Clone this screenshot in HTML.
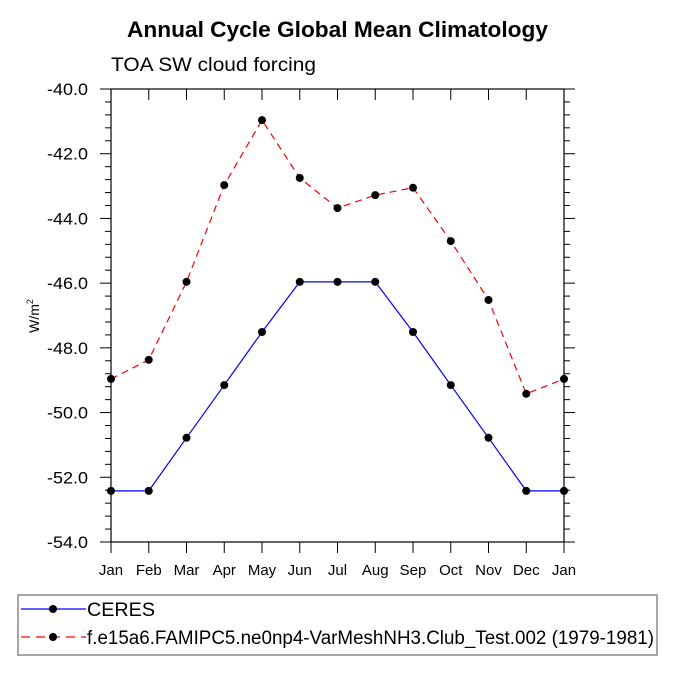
<!DOCTYPE html>
<html><head><meta charset="utf-8"><style>
html,body{margin:0;padding:0;background:#fff;}
svg{display:block;font-family:"Liberation Sans",sans-serif;}
</style></head><body>
<svg id="chart" width="675" height="675">
<text x="127" y="37" textLength="421" lengthAdjust="spacingAndGlyphs" font-size="22" font-weight="bold">Annual Cycle Global Mean Climatology</text>
<text x="111" y="71" textLength="205" lengthAdjust="spacingAndGlyphs" font-size="19">TOA SW cloud forcing</text>
<text transform="translate(39,316) rotate(-90)" text-anchor="middle" font-size="14">W/m<tspan dy="-6" font-size="9">2</tspan></text>
<g id="axes"></g>
<g id="series"></g>
<rect x="18" y="595" width="639" height="60" fill="none" stroke="#888" stroke-width="1.5"/>
<g>
<line x1="21" y1="609" x2="86" y2="609" stroke="#00f" stroke-width="1.2"/>
<circle cx="53" cy="609" r="4" fill="#000"/>
<text x="87" y="616" textLength="68" lengthAdjust="spacingAndGlyphs" font-size="19">CERES</text>
</g>
<g>
<line x1="21" y1="637" x2="86" y2="637" stroke="#f00" stroke-width="1.2" stroke-dasharray="9,6"/>
<circle cx="53" cy="637" r="4" fill="#000"/>
<text x="87" y="644" textLength="567" lengthAdjust="spacingAndGlyphs" font-size="19">f.e15a6.FAMIPC5.ne0np4-VarMeshNH3.Club_Test.002 (1979-1981)</text>
</g>
</svg>
<script>
const months = ["Jan","Feb","Mar","Apr","May","Jun","Jul","Aug","Sep","Oct","Nov","Dec","Jan"];
const ceres = [-52.42,-52.42,-50.78,-49.15,-47.51,-45.96,-45.96,-45.96,-47.51,-49.15,-50.78,-52.42,-52.42];
const model = [-48.96,-48.37,-45.96,-42.97,-40.96,-42.75,-43.68,-43.28,-43.05,-44.7,-46.52,-49.42,-48.96];
const yTicks = [-40,-42,-44,-46,-48,-50,-52,-54];
const NS="http://www.w3.org/2000/svg";
const L=111,R=564,T=89,B=542,ymax=-40,ymin=-54;
const xs=i=>L+(R-L)*i/(months.length-1);
const ys=v=>T+(ymax-v)/(ymax-ymin)*(B-T);
function mk(tag,attrs,parent){const e=document.createElementNS(NS,tag);for(const k in attrs)e.setAttribute(k,attrs[k]);parent.appendChild(e);return e;}
const ax=document.getElementById('axes');
const frame=mk('rect',{x:L,y:T,width:R-L,height:B-T,fill:'none',stroke:'#000','stroke-width':1.2},ax);


for(let v=ymax;v>=ymin-0.001;v-=0.4){
  const y=ys(v);const major=Math.abs(Math.round(v/2)*2-v)<0.01;
  const len=major?11:6;
  mk('line',{x1:L-len,y1:y,x2:L,y2:y,stroke:'#000','stroke-width':1},ax);
  mk('line',{x1:R,y1:y,x2:R+len,y2:y,stroke:'#000','stroke-width':1},ax);
}
yTicks.forEach(v=>{
  const t=mk('text',{x:88,y:ys(v)+6,'text-anchor':'end','font-size':17,textLength:41,lengthAdjust:'spacingAndGlyphs'},ax);
  t.textContent=v.toFixed(1);
  
  
});
months.forEach((m,i)=>{
  const x=xs(i);
  mk('line',{x1:x,y1:B,x2:x,y2:B+11,stroke:'#000','stroke-width':1},ax);
  mk('line',{x1:x,y1:T,x2:x,y2:T+11,stroke:'#000','stroke-width':1},ax);
  const t=mk('text',{x:x,y:B+33,'text-anchor':'middle','font-size':15},ax);
  t.textContent=m;
  
  
});
const sg=document.getElementById('series');
function draw(vals,color,dash,name){
  const g=mk('g',{},sg);
  
  
  const pts=vals.map((v,i)=>xs(i)+','+ys(v)).join(' ');
  const a={points:pts,fill:'none',stroke:color,'stroke-width':1.2};
  if(dash)a['stroke-dasharray']=dash;
  mk('polyline',a,g);
  vals.forEach((v,i)=>{
    const c=mk('circle',{cx:xs(i),cy:ys(v),r:4,fill:'#000'},g);
    
    
  });
}
draw(ceres,'#00f',null,'ceres-line');
draw(model,'#f00','7,5','model-line');
</script>
</body></html>
